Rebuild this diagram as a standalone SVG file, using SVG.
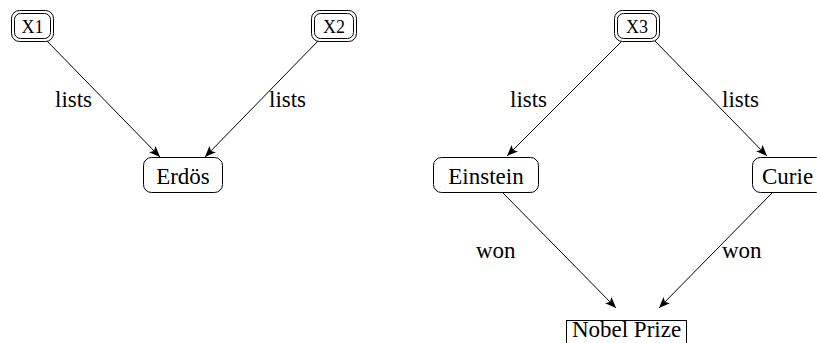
<svg xmlns="http://www.w3.org/2000/svg" width="817" height="343" viewBox="0 0 817 343">
<style>
.lbl{font-size:23px}
.var{font-size:18px;text-anchor:middle}
.box{fill:#fff;stroke:#000;stroke-width:1}
.edge{fill:none;stroke:#000;stroke-width:1;marker-end:url(#ah)}
</style>
<defs>
<marker id="ah" markerUnits="userSpaceOnUse" markerWidth="12" markerHeight="10" viewBox="0 0 12 10" refX="11" refY="5" orient="auto">
<path d="M0,0.5 L11,5 L0,9.5 L2.5,5 z" fill="#000"/>
</marker>
</defs>
<g font-family="Liberation Serif, DejaVu Serif, Tinos, Times New Roman, Times, serif" fill="#000">
<g id="connectors">
<line class="edge" x1="47" y1="41" x2="160" y2="157"/>
<line class="edge" x1="318" y1="41" x2="205" y2="157"/>
<line class="edge" x1="622" y1="41" x2="507" y2="156"/>
<line class="edge" x1="655" y1="41" x2="767" y2="156"/>
<line class="edge" x1="503" y1="193" x2="616" y2="308"/>
<line class="edge" x1="772" y1="193" x2="659" y2="308"/>
<text class="lbl" x="55" y="107">lists</text>
<text class="lbl" x="269" y="107">lists</text>
<text class="lbl" x="510" y="107">lists</text>
<text class="lbl" x="722" y="107">lists</text>
<text class="lbl" x="476" y="258">won</text>
<text class="lbl" x="722" y="258">won</text>
</g>
<g id="x1">
<rect class="box" x="11.5" y="10.5" width="42" height="31" rx="8"/>
<rect class="box" x="14.5" y="13.5" width="36" height="25" rx="6"/>
<text class="var" x="32.5" y="33">X1</text>
</g>
<g id="x2">
<rect class="box" x="311.5" y="10.5" width="45" height="31" rx="8"/>
<rect class="box" x="314.5" y="13.5" width="39" height="25" rx="6"/>
<text class="var" x="334" y="33">X2</text>
</g>
<g id="x3">
<rect class="box" x="614.5" y="10.5" width="45" height="31" rx="8"/>
<rect class="box" x="617.5" y="13.5" width="39" height="25" rx="6"/>
<text class="var" x="637" y="33">X3</text>
</g>
<g id="erdos">
<rect class="box" x="143.5" y="157.5" width="79" height="35" rx="8"/>
<text class="lbl" x="183" y="184" text-anchor="middle">Erdös</text>
</g>
<g id="einstein">
<rect class="box" x="433.5" y="157.5" width="105" height="35" rx="8"/>
<text class="lbl" x="486" y="184" text-anchor="middle">Einstein</text>
</g>
<g id="curie">
<rect class="box" x="752.5" y="157.5" width="72" height="35" rx="8"/>
<text class="lbl" x="762" y="184">Curie</text>
</g>
<g id="nobel">
<rect class="box" x="566.5" y="320.5" width="120" height="30"/>
<text class="lbl" x="626.5" y="337" text-anchor="middle">Nobel Prize</text>
</g>
</g>
</svg>
